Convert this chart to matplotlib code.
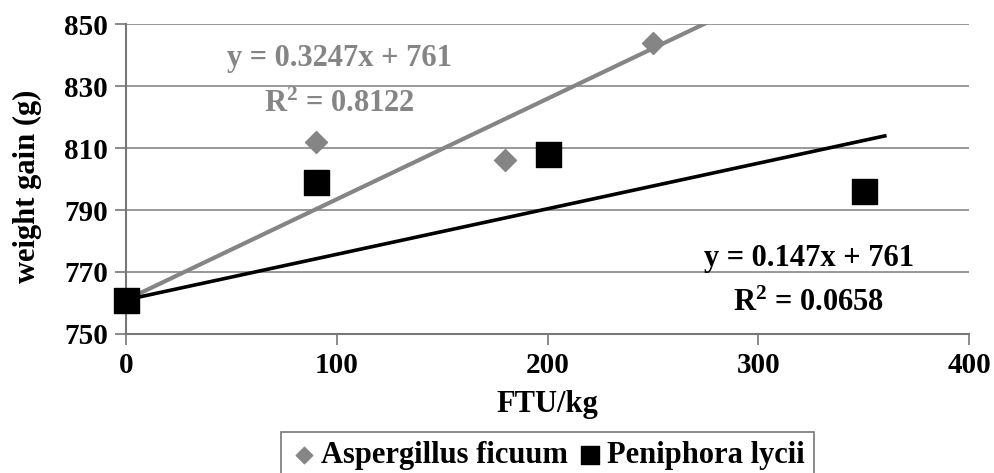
import matplotlib
matplotlib.use("Agg")
import matplotlib.pyplot as plt
import numpy as np

# data
asp_x = [0, 90, 180, 250]
asp_y = [761, 812, 806, 844]
pen_x = [0, 90, 200, 350]
pen_y = [761, 799, 808, 796]
asp_fit = (0.3247, 761)
pen_fit = (0.147, 761)
fit_x = [0, 360]

GRAY = "#858585"
SERIF = ["Liberation Serif", "DejaVu Serif"]
plt.rcParams["font.family"] = SERIF
plt.rcParams["font.weight"] = "bold"
plt.rcParams["mathtext.fontset"] = "custom"
plt.rcParams["mathtext.rm"] = "Liberation Serif:bold"
plt.rcParams["mathtext.bf"] = "Liberation Serif:bold"
plt.rcParams["mathtext.default"] = "rm"

fig = plt.figure(figsize=(9.95, 4.73), dpi=100)
ax = fig.add_axes([0.1266, 0.294, 0.8474, 0.655])

# gridlines
ax.set_axisbelow(True)
ax.yaxis.grid(True, color="#888888", lw=1.2)

fx = np.array(fit_x)
ax.plot(fx, asp_fit[0] * fx + asp_fit[1], color=GRAY, lw=3, zorder=2)
ax.plot(fx, pen_fit[0] * fx + pen_fit[1], color="black", lw=2.6, zorder=2)

ax.scatter(asp_x, asp_y, marker="D", s=125, color=GRAY, zorder=3,
           label="Aspergillus ficuum", clip_on=False)
ax.scatter(pen_x, pen_y, marker="s", s=324, color="black", zorder=4,
           label="Peniphora lycii", clip_on=False)

ax.set_xlim(0, 400)
ax.set_ylim(750, 850)
ax.set_xticks([0, 100, 200, 300, 400])
ax.set_yticks([750, 770, 790, 810, 830, 850])
ax.tick_params(labelsize=21, length=8, width=1.2, color="#777777", pad=5)
for lab in ax.get_xticklabels() + ax.get_yticklabels():
    lab.set_fontweight("bold")
for s in ["top", "right"]:
    ax.spines[s].set_visible(False)
for s in ["left", "bottom"]:
    ax.spines[s].set_color("#777777")
    ax.spines[s].set_linewidth(1.5)

ax.set_xlabel("FTU/kg", fontsize=22, fontweight="bold")
ax.set_ylabel("weight gain (g)", fontsize=22, fontweight="bold")
ax.xaxis.label.set_va("center")
ax.yaxis.label.set_va("center")
ax.xaxis.set_label_coords(0.5 + (547 - 547) / 843, (334 - 405) / 310)
ax.yaxis.set_label_coords((28 - 126) / 843, 0.5 + (179 - 186) / 310)

# trendline equations
ax.text(101.5, 839, "y = 0.3247x + 761", color=GRAY, fontsize=22,
        fontweight="bold", ha="center", va="center")
ax.text(101.5, 824, "R$^2$ = 0.8122", color=GRAY, fontsize=22,
        fontweight="bold", ha="center", va="center")
ax.text(324, 774.5, "y = 0.147x + 761", color="black", fontsize=22,
        fontweight="bold", ha="center", va="center")
ax.text(324, 760, "R$^2$ = 0.0658", color="black", fontsize=22,
        fontweight="bold", ha="center", va="center")

leg = fig.legend(loc="upper center", bbox_to_anchor=(547.5 / 995, 1 - 432 / 473),
                 ncol=2, frameon=True, fancybox=False, borderaxespad=0,
                 prop=dict(family=SERIF, weight="bold", size=22),
                 handletextpad=0.1, columnspacing=0.3, borderpad=0.3,
                 handlelength=0.9, markerscale=0.75)
leg.get_frame().set_edgecolor("#555555")
leg.get_frame().set_linewidth(1.2)

fig.savefig("out.png", dpi=100)
